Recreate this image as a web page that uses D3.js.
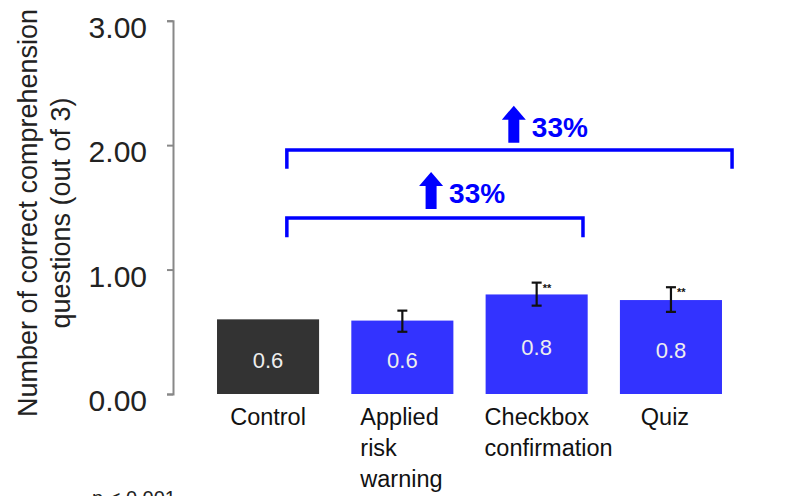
<!DOCTYPE html>
<html><head><meta charset="utf-8">
<script src="https://cdn.jsdelivr.net/npm/d3@7"></script>
<style>body{margin:0;background:#fff}svg{display:block;font-family:Arial,"Liberation Sans",sans-serif}</style>
</head><body><svg id="c" width="792" height="496"></svg>
<script>
const categories = [["Control"], ["Applied","risk","warning"], ["Checkbox","confirmation"], ["Quiz"]];
const catKeys = ["Control","Applied risk warning","Checkbox confirmation","Quiz"];
const values = [0.60, 0.59, 0.80, 0.755];
const barLabels = ["0.6","0.6","0.8","0.8"];
const errLow = [null, 0.50, 0.71, 0.66];
const errHigh = [null, 0.67, 0.895, 0.858];
const significance = ["", "", "**", "**"];
const yTicks = [0, 1, 2, 3];
const brackets = [
  {from: 0.14, to: 3.455, y: 1.96, leg: 1.81, label: "33%", arrowX: 1.83, arrowY: 2.02},
  {from: 0.14, to: 2.345, y: 1.415, leg: 1.26, label: "33%", arrowX: 1.214, arrowY: 1.487}
];
const footnote = "p < 0.001";

const svg = d3.select("#c");
const y = d3.scaleLinear().domain([0, 3]).range([394, 20.7]);
const x = d3.scaleBand().domain(catKeys).range([200.9, 738.1]).paddingInner(0.24).paddingOuter(0.12);
const bw = x.bandwidth();
const xi = d3.scaleLinear().domain([0, 3]).range([x(catKeys[0]) + bw/2, x(catKeys[3]) + bw/2]);
const colors = ["#333333", "#3333ff", "#3333ff", "#3333ff"];
const labelShift = [0, 9, -1, -6];

// axis
const ax = svg.append("g").attr("transform","translate(173,0)")
  .call(d3.axisLeft(y).tickValues(yTicks).tickFormat(d3.format(".2f")).tickSize(6).tickPadding(20));
ax.select(".domain").attr("stroke","#888").attr("stroke-width",2);
ax.selectAll(".tick line").attr("stroke","#888").attr("stroke-width",2);
ax.selectAll(".tick text").attr("font-size",30).attr("fill","#222").attr("dy","0.55em")
  .attr("font-family","Arial, 'Liberation Sans', sans-serif");

// y title
const yt = svg.append("text").attr("transform","translate(37,213) rotate(-90)")
  .attr("text-anchor","middle").attr("font-size",27).attr("fill","#222");
yt.append("tspan").attr("x",0).attr("dy",0).text("Number of correct comprehension");
yt.append("tspan").attr("x",0).attr("dy",33).text("questions (out of 3)");

// bars
const g = svg.append("g");
catKeys.forEach((k, i) => {
  g.append("rect").attr("x", x(k)).attr("y", y(values[i])).attr("width", bw)
    .attr("height", y(0) - y(values[i])).attr("fill", colors[i]);
  g.append("text").attr("x", x(k) + bw/2).attr("y", (y(values[i]) + y(0))/2 + 11)
    .attr("text-anchor","middle").attr("font-size",22).attr("fill","#eeeeee").text(barLabels[i]);
  if (errLow[i] !== null) {
    const cx = x(k) + bw/2;
    const e = g.append("g").attr("stroke","#111").attr("stroke-width",2.2);
    e.append("line").attr("x1",cx).attr("x2",cx).attr("y1",y(errLow[i])).attr("y2",y(errHigh[i]));
    e.append("line").attr("x1",cx-5).attr("x2",cx+5).attr("y1",y(errLow[i])).attr("y2",y(errLow[i]));
    e.append("line").attr("x1",cx-5).attr("x2",cx+5).attr("y1",y(errHigh[i])).attr("y2",y(errHigh[i]));
    if (significance[i]) {
      g.append("text").attr("x", cx + 6).attr("y", y(errHigh[i]) + 9)
        .attr("font-size",11).attr("font-weight","bold").attr("fill","#111").text(significance[i]);
    }
  }
  // category labels
  const t = g.append("text").attr("font-size",23.5).attr("fill","#111");
  const lines = categories[i];
  const anchorMid = lines.length === 1;
  lines.forEach((ln, j) => {
    t.append("tspan").attr("x", anchorMid ? x(k) + bw/2 + labelShift[i] : x(k) + labelShift[i])
      .attr("y", y(0) + 31 + j*31).text(ln);
  });
  t.attr("text-anchor", anchorMid ? "middle" : "start");
});

// brackets
brackets.forEach(b => {
  const p = d3.path();
  p.moveTo(xi(b.from), y(b.leg)); p.lineTo(xi(b.from), y(b.y));
  p.lineTo(xi(b.to), y(b.y)); p.lineTo(xi(b.to), y(b.leg));
  svg.append("path").attr("d", p.toString()).attr("fill","none").attr("stroke","#0000ff").attr("stroke-width",3.5);
  const ax0 = xi(b.arrowX), ay0 = y(b.arrowY);
  const a = d3.path();
  a.moveTo(ax0 - 5.5, ay0); a.lineTo(ax0 - 5.5, ay0 - 23); a.lineTo(ax0 - 12, ay0 - 23);
  a.lineTo(ax0, ay0 - 37); a.lineTo(ax0 + 12, ay0 - 23); a.lineTo(ax0 + 5.5, ay0 - 23);
  a.lineTo(ax0 + 5.5, ay0); a.closePath();
  svg.append("path").attr("d", a.toString()).attr("fill","#0000ff");
  svg.append("text").attr("x", ax0 + 18).attr("y", ay0 - 6).attr("font-size",28)
    .attr("font-weight","bold").attr("fill","#0000ff").text(b.label);
});

svg.append("text").attr("x",92).attr("y",505).attr("font-size",20).attr("fill","#222").text(footnote);
</script></body></html>
